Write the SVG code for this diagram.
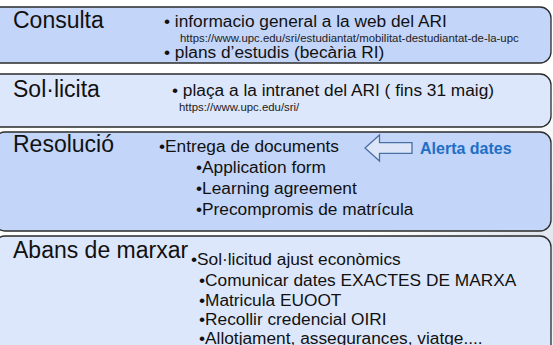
<svg xmlns="http://www.w3.org/2000/svg" width="553" height="345" viewBox="0 0 553 345">
<defs>
<radialGradient id="bg" cx="540" cy="250" r="170" gradientUnits="userSpaceOnUse">
<stop offset="0" stop-color="#dfe5ee"/>
<stop offset="1" stop-color="#ffffff"/>
</radialGradient>
</defs>
<style>
.box{stroke:#2b2b2b;stroke-width:1.3}
.dark{fill:#c3d5f9}
.light{fill:#dde7fb}
.lbl{font-family:"Liberation Sans",Arial,sans-serif;font-size:23px;fill:#111}
.txt{font-family:"Liberation Sans",Arial,sans-serif;font-size:17.3px;fill:#111}
.url{font-family:"Liberation Sans",Arial,sans-serif;font-size:11.4px;fill:#222}
.alert{font-family:"Liberation Sans",Arial,sans-serif;font-size:16px;font-weight:bold;fill:#1f6fc5}
</style>
<rect x="0" y="0" width="553" height="345" fill="url(#bg)"/>
<g id="consulta">
<rect class="box dark" x="-14" y="7" width="565" height="56" rx="11"/>
<text class="lbl" x="13" y="28">Consulta</text>
<text class="txt" x="164" y="27">• informacio general a la web del ARI</text>
<text class="url" x="180" y="42">https://www.upc.edu/sri/estudiantat/mobilitat-destudiantat-de-la-upc</text>
<text class="txt" x="164" y="58">• plans d’estudis (becària RI)</text>
</g>
<g id="sollicita">
<rect class="box light" x="-14" y="74" width="565" height="53" rx="11"/>
<text class="lbl" x="13" y="97">Sol·licita</text>
<text class="txt" x="172" y="96">• plaça a la intranet del ARI ( fins 31 maig)</text>
<text class="url" x="179" y="111">https://www.upc.edu/sri/</text>
</g>
<g id="resolucio">
<rect class="box dark" x="-6" y="132" width="557" height="99" rx="11"/>
<text class="lbl" x="13" y="152">Resolució</text>
<text class="txt" x="159" y="152">•Entrega de documents</text>
<text class="txt" x="196" y="173">•Application form</text>
<text class="txt" x="196" y="194">•Learning agreement</text>
<text class="txt" x="196" y="215">•Precompromis de matrícula</text>
</g>
<g id="abans">
<rect class="box light" x="-6" y="236" width="557" height="120" rx="11"/>
<text class="lbl" x="13" y="258">Abans de marxar</text>
<text class="txt" x="191" y="265">•Sol·licitud ajust econòmics</text>
<text class="txt" x="199" y="286">•Comunicar dates EXACTES DE MARXA</text>
<text class="txt" x="199" y="306">•Matricula EUOOT</text>
<text class="txt" x="199" y="325">•Recollir credencial OIRI</text>
<text class="txt" x="199" y="344">•Allotjament, assegurances, viatge....</text>
</g>
<g id="connectors">
<g id="alerta">
<polygon points="365,148 379.5,135 379.5,142.6 412,142.6 412,153.4 379.5,153.4 379.5,161" fill="#dce6f8" stroke="#4a6fa5" stroke-width="1.3"/>
<text class="alert" x="420" y="154">Alerta dates</text>
</g>
</g>
</svg>
